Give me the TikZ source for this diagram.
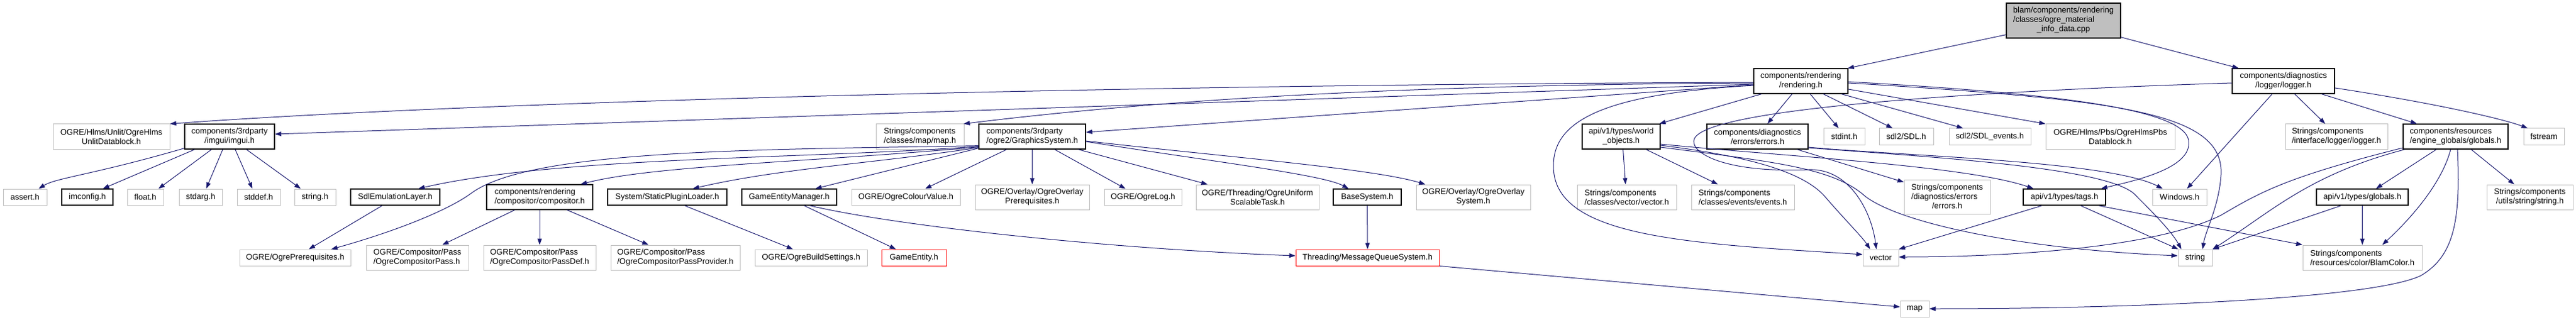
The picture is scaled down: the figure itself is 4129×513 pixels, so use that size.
\documentclass[tikz,border=0pt]{standalone}
\usepackage{fontspec}
\setmainfont{Liberation Sans}
\usetikzlibrary{arrows.meta}
\definecolor{edgeblue}{HTML}{191970}
\definecolor{extgray}{HTML}{BFBFBF}
\begin{document}
\begin{tikzpicture}[x=1pt,y=-1pt,
  box/.style={rectangle, inner sep=0pt, font=\fontsize{13}{15}\selectfont, text=black},
  doc/.style={box, draw=black, line width=1.3pt},
  ext/.style={box, draw=extgray, line width=1pt},
  trunc/.style={box, draw=red, line width=1pt},
  one/.style={minimum height=26pt},
  two/.style={minimum height=40pt},
  three/.style={minimum height=55pt},
  w/.style={minimum width=#1pt},
  dep/.style={draw=edgeblue, line width=1pt, -{Triangle[length=10pt,width=7pt]}}
]
\fill[white] (0,0) rectangle (4129,513);
\useasboundingbox (0,0) rectangle (4129,513);

% ---------- row 1
\node[doc, fill=extgray, w=183, minimum height=56pt] (top) at (3307.5,33)
  {\begin{tabular}{@{}l@{}}blam/components/rendering\\/classes/ogre\_material\\\multicolumn{1}{@{}c@{}}{\_info\_data.cpp}\end{tabular}};

% ---------- row 2
\node[doc, two, w=151, align=center] (rend) at (2886.5,130) {components/rendering\\/rendering.h};
\node[doc, two, w=164, align=center] (logger) at (3660,130) {components/diagnostics\\/logger/logger.h};

% ---------- row 3
\node[ext, two, w=187, align=center] (unlit) at (178.5,219) {OGRE/Hlms/Unlit/OgreHlms\\UnlitDatablock.h};
\node[doc, two, w=144, align=center] (imgui) at (368,219) {components/3rdparty\\/imgui/imgui.h};
\node[ext, two, w=141, align=left] (mapH) at (1474.5,219) {Strings/components\\/classes/map/map.h};
\node[doc, two, w=171, align=left] (gfx) at (1654.5,219) {components/3rdparty\\/ogre2/GraphicsSystem.h};
\node[doc, two, w=125, align=center] (wobj) at (2598.5,219) {api/v1/types/world\\\_objects.h};
\node[doc, two, w=162, align=center] (errs) at (2817,219) {components/diagnostics\\/errors/errors.h};
\node[ext, one, w=66] (stdint) at (2956,219) {stdint.h};
\node[ext, one, w=87] (sdl) at (3055.5,219) {sdl2/SDL.h};
\node[ext, one, w=131] (sdlev) at (3189.5,219) {sdl2/SDL\_events.h};
\node[ext, two, w=207, align=center] (pbs) at (3382.5,219) {OGRE/Hlms/Pbs/OgreHlmsPbs\\Datablock.h};
\node[ext, two, w=164, align=left] (ilog) at (3745,219) {Strings/components\\/interface/logger/logger.h};
\node[doc, two, w=168, align=left] (glob) at (3936,219) {components/resources\\/engine\_globals/globals.h};
\node[ext, one, w=65] (fstream) at (4077.5,219) {fstream};

% ---------- row 4
\node[ext, one, w=70] (assert) at (40,316) {assert.h};
\node[doc, one, w=82] (imconfig) at (140,316) {imconfig.h};
\node[ext, one, w=58] (float) at (233,316) {float.h};
\node[ext, one, w=69] (stdarg) at (321.5,316) {stdarg.h};
\node[ext, one, w=69] (stddef) at (414.5,316) {stddef.h};
\node[ext, one, w=66] (stringh) at (505,316) {string.h};
\node[doc, one, w=143] (sdlemu) at (633.5,316) {SdlEmulationLayer.h};
\node[doc, two, w=170, align=left] (comp) at (865,316) {components/rendering\\/compositor/compositor.h};
\node[doc, one, w=191] (spl) at (1069.5,316) {System/StaticPluginLoader.h};
\node[doc, one, w=152] (gem) at (1265,316) {GameEntityManager.h};
\node[ext, one, w=174] (colour) at (1452,316) {OGRE/OgreColourValue.h};
\node[ext, two, w=183, align=center] (ovpre) at (1654.5,316) {OGRE/Overlay/OgreOverlay\\Prerequisites.h};
\node[ext, one, w=124] (ogrelog) at (1832,316) {OGRE/OgreLog.h};
\node[ext, two, w=197, align=center] (unif) at (2015.5,316) {OGRE/Threading/OgreUniform\\ScalableTask.h};
\node[doc, one, w=109] (basesys) at (2191.5,316) {BaseSystem.h};
\node[ext, two, w=183, align=center] (ovsys) at (2361.5,316) {OGRE/Overlay/OgreOverlay\\System.h};
\node[ext, two, w=159, align=left] (vech) at (2607.5,316) {Strings/components\\/classes/vector/vector.h};
\node[ext, two, w=165, align=left] (evh) at (2793.5,316) {Strings/components\\/classes/events/events.h};
\node[ext, three, w=138] (serr) at (3121,316)
  {\begin{tabular}{@{}l@{}}Strings/components\\/diagnostics/errors\\\multicolumn{1}{@{}c@{}}{/errors.h}\end{tabular}};
\node[doc, one, w=132] (tags) at (3309,316) {api/v1/types/tags.h};
\node[ext, one, w=87] (windows) at (3493.5,316) {Windows.h};
\node[doc, one, w=147] (apiglob) at (3786.5,316) {api/v1/types/globals.h};
\node[ext, two, w=138, align=center] (ustr) at (4055,316) {Strings/components\\/utils/string/string.h};

% ---------- row 5
\node[ext, one, w=178] (prereq) at (473,413) {OGRE/OgrePrerequisites.h};
\node[ext, two, w=164, align=left] (cpass) at (669,413) {OGRE/Compositor/Pass\\/OgreCompositorPass.h};
\node[ext, two, w=180, align=left] (cpdef) at (865,413) {OGRE/Compositor/Pass\\/OgreCompositorPassDef.h};
\node[ext, two, w=207, align=left] (cpprov) at (1082.5,413) {OGRE/Compositor/Pass\\/OgreCompositorPassProvider.h};
\node[ext, one, w=180] (build) at (1300,413) {OGRE/OgreBuildSettings.h};
\node[trunc, one, w=104] (gent) at (1465,413) {GameEntity.h};
\node[trunc, one, w=230] (mqs) at (2192,413) {Threading/MessageQueueSystem.h};
\node[ext, one, w=57] (vector) at (3014.5,413) {vector};
\node[ext, one, w=55] (string) at (3518.5,413) {string};
\node[ext, two, w=191, align=left] (blam) at (3786.5,413) {Strings/components\\/resources/color/BlamColor.h};

% ---------- row 6
\node[ext, one, w=46] (map) at (3069,495) {map};

% ========== edges
% top file
\draw[dep] ([yshift=6pt]top.south west) -- ([xshift=-1pt]rend.north east);
\draw[dep] ([yshift=2pt]top.south east) -- ([xshift=11pt]logger.north west);

% rendering.h
\draw[dep] ([yshift=-2pt]rend.west) .. controls (1900,135) and (800,160) .. (unlit.north east);
\draw[dep] ([yshift=-5pt]rend.west) -- ([yshift=4pt]imgui.east);
\draw[dep] ([yshift=-3pt]rend.west) .. controls (2300,136) and (1900,155) .. ([xshift=-1pt]mapH.north east);
\draw[dep] ([yshift=-6pt]rend.west) -- ([yshift=7pt]gfx.east);
\draw[dep] ([yshift=-7pt]rend.west) .. controls (2580,150) and (2490,190) .. (2490,265)
  .. controls (2488,380) and (2700,390) .. ([yshift=5pt]vector.west);
\draw[dep] ([xshift=-63pt]rend.south) -- ([xshift=-2pt]wobj.north east);
\draw[dep] ([xshift=-14pt]rend.south) -- ([xshift=16pt]errs.north);
\draw[dep] ([xshift=15pt]rend.south) -- ([xshift=-9pt]stdint.north);
\draw[dep] ([xshift=36pt]rend.south) -- ([xshift=-22pt]sdl.north);
\draw[dep] ([xshift=65pt]rend.south) -- ([xshift=-43pt]sdlev.north);
\draw[dep] ([yshift=-13pt]rend.east) -- (pbs.north west);
\draw[dep] ([yshift=-3pt]rend.east) .. controls (3400,160) and (3565,180) .. (3560,280)
  .. controls (3557,330) and (3535,370) .. ([xshift=12pt]string.north);
\draw[dep] ([yshift=-1pt]rend.east) .. controls (3300,150) and (3500,175) .. (3508,225)
  .. controls (3515,270) and (3420,290) .. ([xshift=-8pt]tags.north east);

% logger.h
\draw[dep] ([yshift=-3pt]logger.west) .. controls (3200,145) and (2740,172) .. (2716,222)
  .. controls (2706,243) and (2760,278) .. (2900,272)
  .. controls (2965,270) and (3000,340) .. ([xshift=-7pt]vector.north);
\draw[dep] ([xshift=-18pt]logger.south) -- ([xshift=12pt]windows.north);
\draw[dep] ([xshift=18pt]logger.south) -- ([xshift=-18pt]ilog.north);
\draw[dep] ([xshift=61pt]logger.south) -- ([xshift=-62pt]glob.north);
\draw[dep] ([yshift=-11pt]logger.east) .. controls (3900,165) and (4010,190) .. ([xshift=7pt]fstream.north west);

% imgui.h
\draw[dep] ([yshift=2pt]imgui.south west) .. controls (150,280) and (90,285) .. ([xshift=22pt]assert.north);
\draw[dep] ([xshift=-56pt]imgui.south) -- ([xshift=25pt]imconfig.north);
\draw[dep] ([xshift=-29pt]imgui.south) -- ([xshift=21pt]float.north);
\draw[dep] ([xshift=-11pt]imgui.south) -- ([xshift=9pt]stdarg.north);
\draw[dep] ([xshift=9pt]imgui.south) -- ([xshift=-10pt]stddef.north);
\draw[dep] ([xshift=27pt]imgui.south) -- ([xshift=-23pt]stringh.north);

% GraphicsSystem.h
\draw[dep] ([yshift=6pt]gfx.south west) .. controls (1200,240) and (850,240) .. (755,310)
  .. controls (717,338) and (630,372) .. ([xshift=58pt]prereq.north);
\draw[dep] ([yshift=5pt]gfx.south west) .. controls (1300,255) and (900,250) .. ([xshift=-35pt]sdlemu.north east);
\draw[dep] ([yshift=4pt]gfx.south west) .. controls (1300,260) and (1050,265) .. ([xshift=-20pt]comp.north east);
\draw[dep] ([yshift=3pt]gfx.south west) .. controls (1400,262) and (1250,270) .. ([xshift=41pt]spl.north);
\draw[dep] ([yshift=2pt]gfx.south west) -- ([xshift=42pt]gem.north);
\draw[dep] ([xshift=-41pt]gfx.south) -- ([xshift=31pt]colour.north);
\draw[dep] (gfx.south) -- (ovpre.north);
\draw[dep] ([xshift=36pt]gfx.south) -- ([xshift=-28pt]ogrelog.north);
\draw[dep] ([xshift=74pt]gfx.south) -- ([xshift=-80pt]unif.north);
\draw[dep] ([yshift=-8pt]gfx.east) .. controls (1950,260) and (2120,280) .. ([xshift=-30pt]basesys.north);
\draw[dep] ([yshift=-7pt]gfx.east) .. controls (1950,250) and (2200,270) .. ([xshift=15pt]ovsys.north west);

% second level
\draw[dep] ([xshift=-21pt]sdlemu.south) -- ([xshift=22pt]prereq.north);
\draw[dep] ([xshift=-40pt]comp.south) -- ([xshift=40pt]cpass.north);
\draw[dep] (comp.south) -- (cpdef.north);
\draw[dep] ([xshift=44pt]comp.south) -- ([xshift=-43pt]cpprov.north);
\draw[dep] ([xshift=28pt]spl.south) -- ([xshift=-29pt]build.north);
\draw[dep] ([xshift=24pt]gem.south) -- ([xshift=-29pt]gent.north);
\draw[dep] ([xshift=33pt]gem.south) .. controls (1450,365) and (1800,400) .. ([yshift=3pt]mqs.west);
\draw[dep] (basesys.south) -- (mqs.north);
\draw[dep] (mqs.south east) -- ([yshift=3pt]map.west);

% world_objects.h
\draw[dep] ([xshift=3pt]wobj.south) -- ([xshift=-2pt]vech.north);
\draw[dep] ([xshift=40pt]wobj.south) -- ([xshift=-40pt]evh.north);
\draw[dep] ([yshift=-12pt]wobj.east) .. controls (2850,250) and (3150,265) .. ([xshift=17pt]tags.north west);
\draw[dep] ([yshift=-14pt]wobj.east) .. controls (2800,250) and (2890,275) .. (2925,315)
  .. controls (2955,350) and (2985,380) .. ([xshift=-17pt]vector.north);
\draw[dep] ([yshift=-17pt]wobj.east) .. controls (2850,260) and (2940,270) .. (2990,315)
  .. controls (3050,360) and (3250,400) .. ([yshift=3pt]string.west);

% errors.h
\draw[dep] ([xshift=-18pt]errs.south east) -- ([yshift=-4pt]serr.north west);
\draw[dep] ([yshift=-17pt]errs.east) .. controls (3050,250) and (3380,258) .. ([xshift=-27pt]windows.north);
\draw[dep] ([yshift=-18pt]errs.east) .. controls (3100,252) and (3370,268) .. (3420,310)
  .. controls (3450,340) and (3480,370) .. ([xshift=6pt]string.north west);

% tags.h
\draw[dep] ([xshift=-36pt]tags.south) -- (vector.north east);
\draw[dep] ([xshift=26pt]tags.south) -- ([xshift=1pt]string.north west);
\draw[dep] ([xshift=-12pt]tags.south east) -- (blam.north west);

% globals.h (engine)
\draw[dep] ([xshift=-31pt]glob.south) -- ([xshift=22pt]apiglob.north);
\draw[dep] ([xshift=-8pt]glob.south) .. controls (3915,290) and (3870,345) .. ([xshift=32pt]blam.north);
\draw[dep] ([xshift=25pt]glob.south) -- ([xshift=-25pt]ustr.north);
\draw[dep] ([xshift=3pt]glob.south) .. controls (3944,350) and (3935,410) .. (3880,442)
  .. controls (3800,480) and (3400,495) .. (map.east);
\draw[dep] ([xshift=3pt]glob.south west) .. controls (3700,280) and (3640,340) .. (string.north east);
\draw[dep] ([yshift=-18pt]glob.west) .. controls (3660,285) and (3620,310) .. (3560,345)
  .. controls (3450,400) and (3200,412) .. ([yshift=1pt]vector.east);

% api globals.h
\draw[dep] ([xshift=-34pt]apiglob.south) -- (string.north east);
\draw[dep] (apiglob.south) -- (blam.north);
\end{tikzpicture}
\end{document}
